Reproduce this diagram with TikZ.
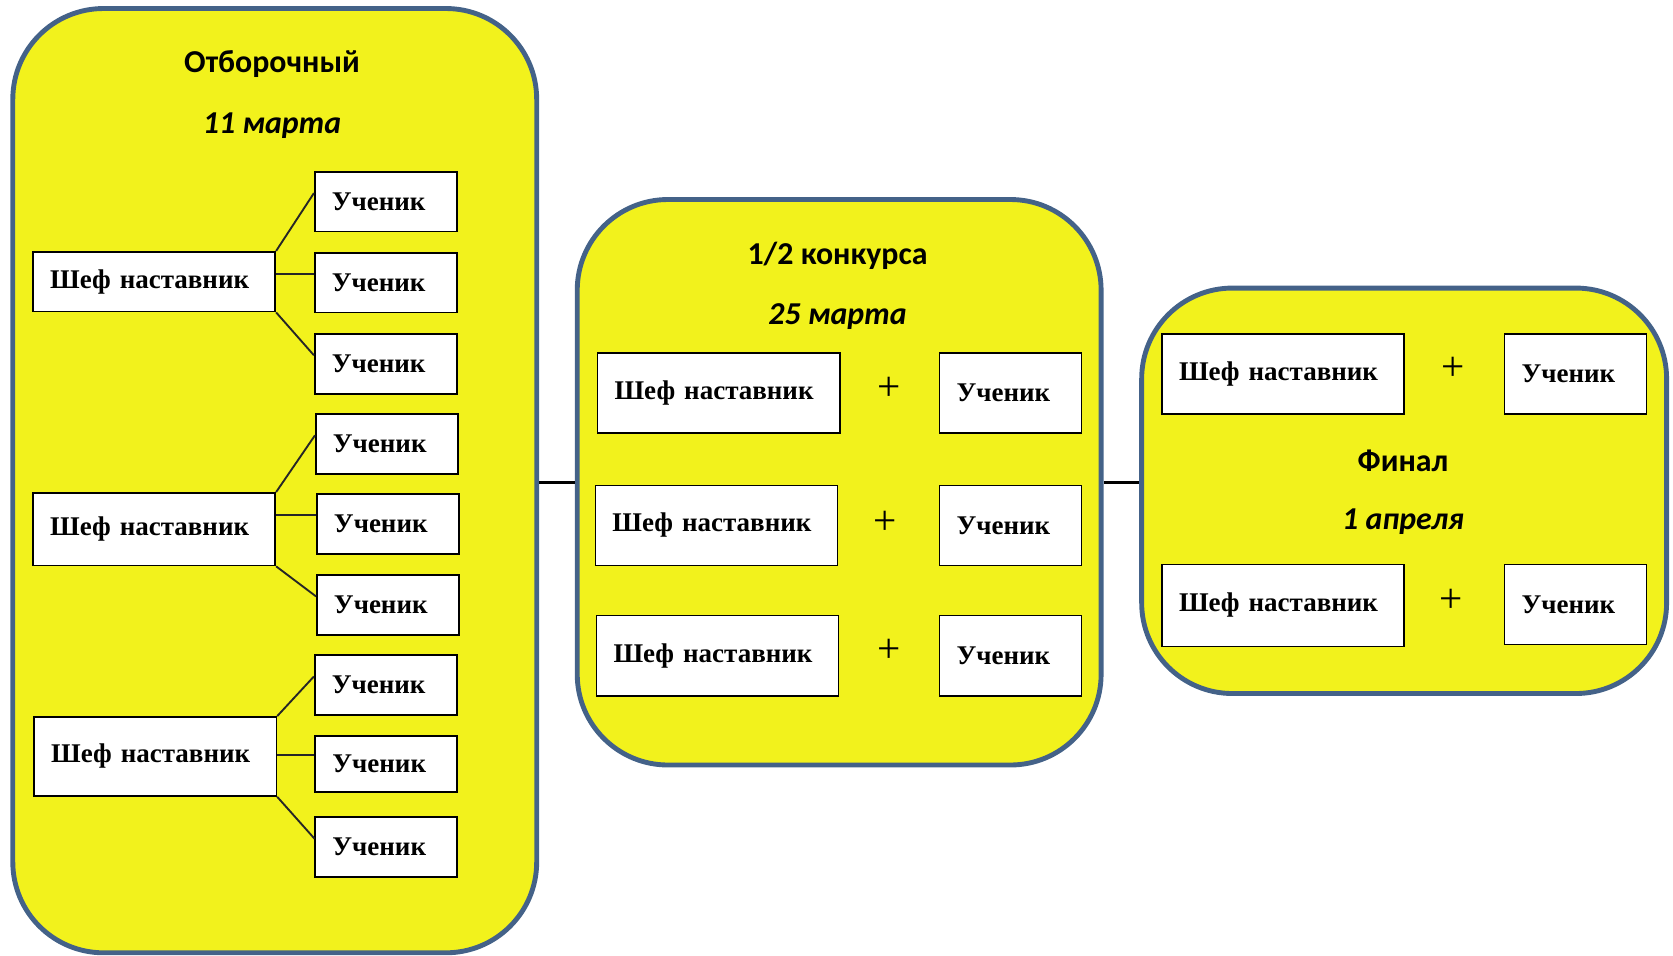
\documentclass[tikz,border=0pt]{standalone}
\usepackage{fontspec}
\setmainfont{Liberation Serif}
\newfontfamily\titlefont{Carlito}
\usepackage{tikz}
\usetikzlibrary{positioning, calc}

\definecolor{stageyellow}{RGB}{242,242,28}
\definecolor{stageborder}{RGB}{68,98,136}

\begin{document}
\begin{tikzpicture}[
  stage/.style={rectangle, draw=stageborder, line width=1.3pt, fill=stageyellow, rounded corners=0.85cm},
  chef/.style={rectangle, draw, line width=0.45pt, fill=white, text width=1.95cm, inner xsep=0.16cm, inner ysep=0pt, align=left, font=\fontsize{7.2}{9}\selectfont\bfseries},
  pupil/.style={chef, text width=1.01cm},
  stagetitle/.style={font=\titlefont\fontsize{8.5}{10}\selectfont\bfseries},
  stagedate/.style={font=\titlefont\fontsize{8.5}{10}\selectfont\bfseries\itshape},
  plus/.style={font=\fontsize{11}{12}\selectfont},
  link/.style={draw=black!85, line width=0.5pt},
  bridge/.style={draw, line width=0.7pt},
]
  \useasboundingbox (0,0) rectangle (15.68,-8.96);

  % three stages
  \node[stage, minimum width=4.91cm, minimum height=8.85cm] (otbor) at (2.575,-4.505) {};
  \node[stage, minimum width=4.91cm, minimum height=5.30cm] (polu) at (7.865,-4.52) {};
  \node[stage, minimum width=4.92cm, minimum height=3.80cm] (final) at (13.16,-4.60) {};

  \draw[bridge] (otbor.east |- polu.west) -- (polu.west);
  \draw[bridge] (polu.east) -- (final.west |- polu.east);

  % selection round
  \node[stagetitle] (otbortitle) at (2.55,-0.60) {Отборочный};
  \node[stagedate] (otbordate) at (2.55,-1.18) {11 марта};

  \node[chef, minimum height=0.56cm] (chefA) at (1.445,-2.64) {Шеф наставник};
  \node[pupil, minimum height=0.56cm] (pupilA1) at (3.615,-1.89) {Ученик};
  \node[pupil, minimum height=0.56cm] (pupilA2) at (3.615,-2.65) {Ученик};
  \node[pupil, minimum height=0.56cm] (pupilA3) at (3.615,-3.41) {Ученик};

  \node[chef, minimum height=0.68cm] (chefB) at (1.445,-4.96) {Шеф наставник};
  \node[pupil, minimum height=0.56cm] (pupilB1) at (3.625,-4.16) {Ученик};
  \node[pupil, minimum height=0.56cm] (pupilB2) at (3.635,-4.91) {Ученик};
  \node[pupil, minimum height=0.56cm] (pupilB3) at (3.635,-5.67) {Ученик};

  \node[chef, minimum height=0.74cm] (chefC) at (1.455,-7.09) {Шеф наставник};
  \node[pupil, minimum height=0.56cm] (pupilC1) at (3.615,-6.42) {Ученик};
  \node[pupil, minimum height=0.52cm] (pupilC2) at (3.62,-7.16) {Ученик};
  \node[pupil, minimum height=0.56cm] (pupilC3) at (3.62,-7.94) {Ученик};

  \draw[link] (chefA.north east) -- ($(pupilA1.west)+(0,0.08)$);
  \draw[link] ($(chefA.east |- pupilA2.west)+(0,0.08)$) -- ($(pupilA2.west)+(0,0.08)$);
  \draw[link] (chefA.south east) -- ($(pupilA3.west)+(0,0.08)$);
  \draw[link] (chefB.north east) -- ($(pupilB1.west)+(0,0.08)$);
  \draw[link] ($(chefB.east |- pupilB2.west)+(0,0.08)$) -- ($(pupilB2.west)+(0,0.08)$);
  \draw[link] (chefB.south east) -- ($(pupilB3.west)+(0,0.08)$);
  \draw[link] (chefC.north east) -- ($(pupilC1.west)+(0,0.08)$);
  \draw[link] ($(chefC.east |- pupilC2.west)+(0,0.08)$) -- ($(pupilC2.west)+(0,0.08)$);
  \draw[link] (chefC.south east) -- ($(pupilC3.west)+(0,0.08)$);

  % semi-final
  \node[stagetitle] (polutitle) at (7.85,-2.40) {1/2 конкурса};
  \node[stagedate] (poludate) at (7.85,-2.97) {25 марта};

  \node[chef, minimum height=0.75cm] (chefD1) at (6.735,-3.685) {Шеф наставник};
  \node[plus] (plusD1) at (8.33,-3.64) {+};
  \node[pupil, minimum height=0.75cm] (pupilD1) at (9.47,-3.685) {Ученик};
  \node[chef, minimum height=0.75cm] (chefD2) at (6.715,-4.925) {Шеф наставник};
  \node[plus] (plusD2) at (8.30,-4.90) {+};
  \node[pupil, minimum height=0.75cm] (pupilD2) at (9.47,-4.925) {Ученик};
  \node[chef, minimum height=0.75cm] (chefD3) at (6.725,-6.145) {Шеф наставник};
  \node[plus] (plusD3) at (8.33,-6.10) {+};
  \node[pupil, minimum height=0.75cm] (pupilD3) at (9.47,-6.145) {Ученик};

  % final
  \node[chef, minimum height=0.75cm] (chefE1) at (12.025,-3.505) {Шеф наставник};
  \node[plus] (plusE1) at (13.62,-3.46) {+};
  \node[pupil, minimum height=0.75cm] (pupilE1) at (14.765,-3.505) {Ученик};
  \node[stagetitle] (finaltitle) at (13.15,-4.32) {Финал};
  \node[stagedate] (finaldate) at (13.15,-4.89) {1 апреля};
  \node[chef, minimum height=0.77cm] (chefE2) at (12.025,-5.675) {Шеф наставник};
  \node[plus] (plusE2) at (13.60,-5.63) {+};
  \node[pupil, minimum height=0.75cm] (pupilE2) at (14.765,-5.665) {Ученик};
\end{tikzpicture}
\end{document}
